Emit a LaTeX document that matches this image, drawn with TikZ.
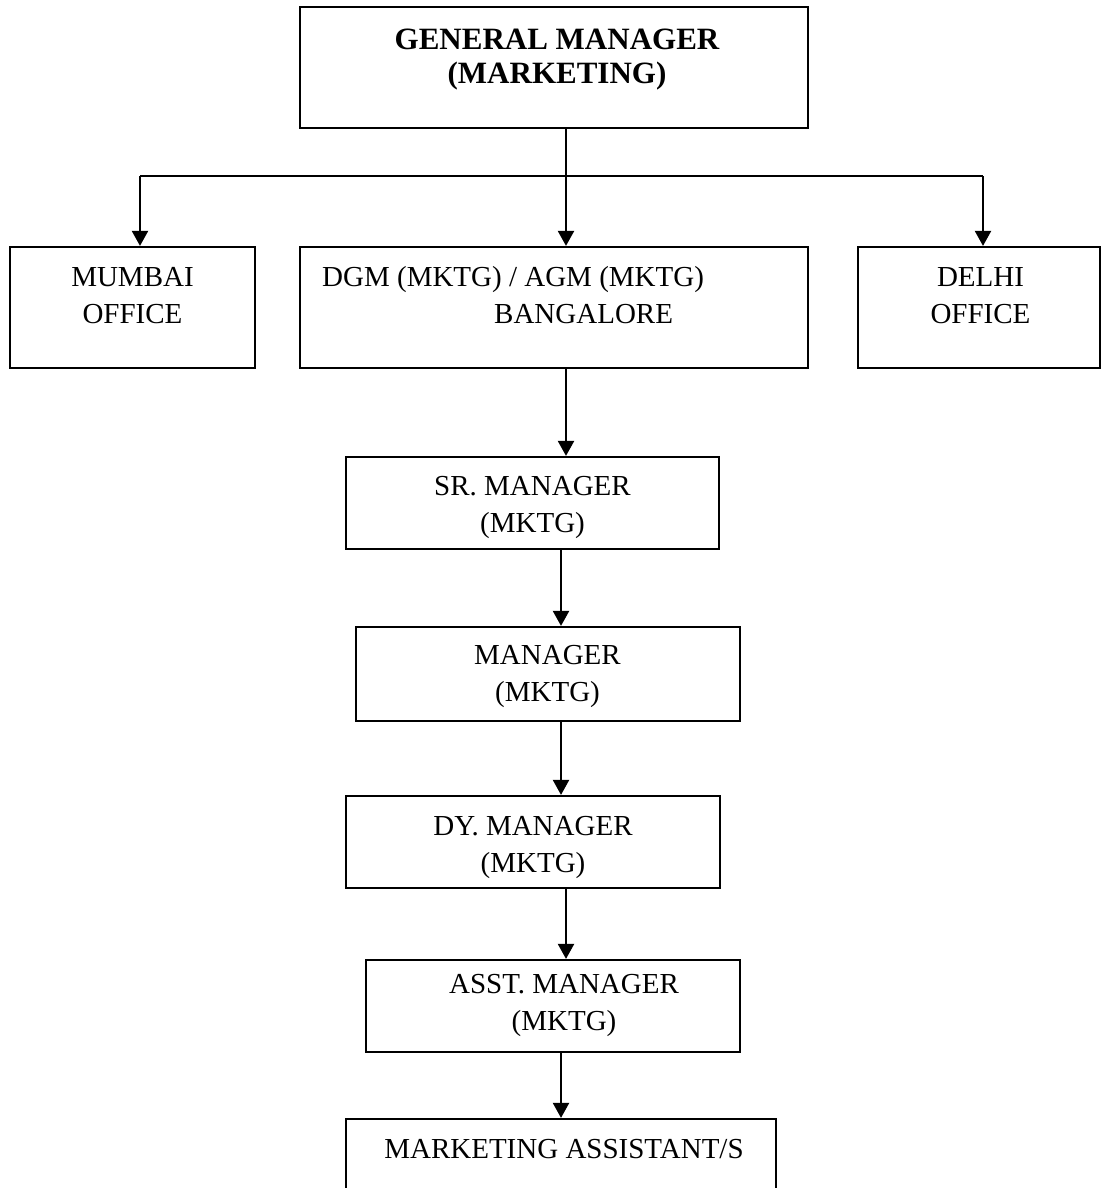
\documentclass[tikz,border=0pt]{standalone}
\usepackage{fontspec}
\setmainfont{Liberation Serif}
\usetikzlibrary{arrows.meta}

\tikzset{
  box/.style={draw, line width=2.2pt, inner sep=0pt},
  txt/.style={align=center, inner sep=0pt, font=\fontsize{29}{37}\selectfont},
  bigtxt/.style={align=center, inner sep=0pt, font=\fontsize{31}{34}\selectfont\bfseries},
  link/.style={line width=2.2pt},
  arr/.style={line width=2.2pt, -{Triangle[length=15pt,width=16pt]}}
}

\begin{document}
\begin{tikzpicture}[x=1pt, y=-1pt]
  \useasboundingbox (0,0) rectangle (1103,1188);
  \clip (0,0) rectangle (1103,1188);
  % boxes
  \node[box, minimum width=508pt, minimum height=121pt] (gm) at (554,67.5) {};
  \node[box, minimum width=245pt, minimum height=121pt] (mumbai) at (132.5,307.5) {};
  \node[box, minimum width=508pt, minimum height=121pt] (dgm) at (554,307.5) {};
  \node[box, minimum width=242pt, minimum height=121pt] (delhi) at (979,307.5) {};
  \node[box, minimum width=373pt, minimum height=92pt] (srmgr) at (532.5,503) {};
  \node[box, minimum width=384pt, minimum height=94pt] (mgr) at (548,674) {};
  \node[box, minimum width=374pt, minimum height=92pt] (dymgr) at (533,842) {};
  \node[box, minimum width=374pt, minimum height=92pt] (asstmgr) at (553,1006) {};
  \node[box, minimum width=430pt, minimum height=130pt] (mktasst) at (561,1184) {};
  % texts
  \node[bigtxt] (gmtext) at (557,60) {GENERAL MANAGER\\(MARKETING)};
  \node[txt] (mumtext) at (132.5,296) {MUMBAI\\OFFICE};
  \node[txt, align=left, anchor=west] (dgmtext) at (322,295)
    {DGM (MKTG) / AGM (MKTG)\\\hspace*{172pt}BANGALORE};
  \node[txt] (deltext) at (980.5,296) {DELHI\\OFFICE};
  \node[txt] (srtext) at (532.5,507.5) {SR. MANAGER\\(MKTG)};
  \node[txt] (mgrtext) at (547.5,676.5) {MANAGER\\(MKTG)};
  \node[txt] (dytext) at (533,847) {DY. MANAGER\\(MKTG)};
  \node[txt] (assttext) at (564,1005) {ASST. MANAGER\\(MKTG)};
  \node[txt] (mkttext) at (564,1149) {MARKETING ASSISTANT/S};
  % connectors
  \coordinate (split) at (566,176);
  \coordinate (lft) at (140,176);
  \coordinate (rgt) at (983,176);
  \coordinate (colA) at (566,0);
  \coordinate (colB) at (561,0);
  \draw[link] (gm.south -| split) -- (split);
  \draw[link] (lft) -- (rgt);
  \draw[arr] (lft) -- (lft |- mumbai.north);
  \draw[arr] (split) -- (split |- dgm.north);
  \draw[arr] (rgt) -- (rgt |- delhi.north);
  \draw[arr] (colA |- dgm.south) -- (colA |- srmgr.north);
  \draw[arr] (colB |- srmgr.south) -- (colB |- mgr.north);
  \draw[arr] (colB |- mgr.south) -- (colB |- dymgr.north);
  \draw[arr] (colA |- dymgr.south) -- (colA |- asstmgr.north);
  \draw[arr] (colB |- asstmgr.south) -- (colB |- mktasst.north);
\end{tikzpicture}
\end{document}
